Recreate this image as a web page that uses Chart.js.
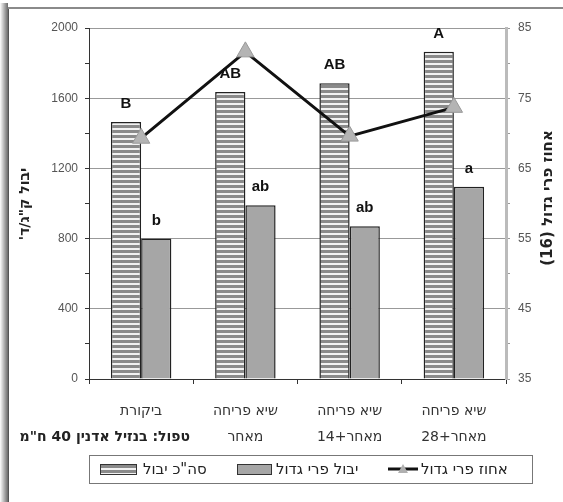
<!DOCTYPE html>
<html lang="he">
<head>
<meta charset="UTF-8">
<title>יבול ואחוז פרי גדול</title>
<script src="https://cdn.jsdelivr.net/npm/chart.js"></script>
<style>
  body { margin: 0; background: #fff; }
  #wrap { position: relative; width: 563px; height: 502px; overflow: hidden; }
  canvas { position: absolute; left: 0; top: 0; }
  #shade { position: absolute; left: 0; top: 3px; bottom: 0; width: 8px; background: linear-gradient(to right, #fff, #6a6a6a); }
  #edgeL { position: absolute; left: 8px; top: 7px; bottom: 0; width: 1px; background: #555; }
  #edgeT { position: absolute; left: 8px; top: 7px; right: 0; height: 2px; background: #8a8a8a; }
</style>
</head>
<body>
<div id="wrap">
  <canvas id="chart" width="563" height="502" dir="rtl"></canvas>
  <div id="shade"></div>
  <div id="edgeL"></div>
  <div id="edgeT"></div>
</div>

<script>
  const categories = [
    ["ביקורת"],
    ["שיא פריחה", "מאחר"],
    ["שיא פריחה", "מאחר+14"],
    ["שיא פריחה", "מאחר+28"]
  ];
  const totalYield = [1465, 1635, 1685, 1865];     // סה"כ יבול
  const largeYield = [800, 990, 870, 1095];        // יבול פרי גדול
  const largePercent = [69.3, 81.6, 69.6, 73.7];   // אחוז פרי גדול
  const totalLetters = ["B", "AB", "AB", "A"];
  const largeLetters = ["b", "ab", "ab", "a"];
  const seriesNames = ['סה"כ יבול', "יבול פרי גדול", "אחוז פרי גדול"];
  const leftTitle = 'יבול ק"ג/ד\'';
  const rightTitle = "אחוז פרי גדול (16)";
  const treatmentNote = 'טפול: בנזיל אדנין 40 ח"מ';

  const FONT = "'Liberation Sans', Arial, sans-serif";
  const HEB = "'DejaVu Sans', 'Liberation Sans', sans-serif";
  const rtl = s => "\u202B" + s + "\u202C";

  // striped fill for the total-yield bars
  function stripes() {
    const c = document.createElement("canvas");
    c.width = 4; c.height = 5;
    const g = c.getContext("2d");
    g.fillStyle = "#f2f2f2";
    g.fillRect(0, 0, 4, 5);
    g.fillStyle = "#8a8a8a";
    g.fillRect(0, 0, 4, 3);
    return g.createPattern(c, "repeat");
  }
  const stripePattern = stripes();

  const extras = {
    id: "extras",
    beforeDraw(chart) {
      chart.ctx.direction = "rtl";
    },
    afterDatasetsDraw(chart) {
      const ctx = chart.ctx;
      ctx.save();
      ctx.fillStyle = "#111";
      ctx.font = "bold 15px " + FONT;
      ctx.textAlign = "center";
      ctx.textBaseline = "middle";
      [totalLetters, largeLetters].forEach((letters, i) => {
        chart.getDatasetMeta(i).data.forEach((bar, j) => {
          ctx.fillText(letters[j], bar.x, bar.y - 18);
        });
      });
      ctx.restore();
    },
    afterDraw(chart) {
      const ctx = chart.ctx;
      ctx.save();
      ctx.direction = "rtl";
      ctx.fillStyle = "#222";
      ctx.textBaseline = "middle";
      ctx.textAlign = "center";

      // axis titles
      ctx.font = "bold 14px " + HEB;
      ctx.save();
      ctx.translate(25, 204);
      ctx.rotate(-Math.PI / 2);
      ctx.fillText(rtl(leftTitle), 0, 0);
      ctx.restore();
      ctx.font = "bold 15px " + HEB;
      ctx.save();
      ctx.translate(548, 198);
      ctx.rotate(-Math.PI / 2);
      ctx.fillText(rtl(rightTitle), 0, 0);
      ctx.restore();

      // treatment note
      ctx.textAlign = "right";
      ctx.font = "bold 14px " + HEB;
      ctx.fillText(rtl(treatmentNote), 190, 437);

      // legend
      ctx.strokeStyle = "#777";
      ctx.lineWidth = 1;
      ctx.strokeRect(89.5, 455.5, 443, 28);
      ctx.font = "15px " + HEB;
      ctx.textAlign = "left";

      ctx.fillStyle = stripePattern;
      ctx.fillRect(100, 464, 36, 10);
      ctx.strokeStyle = "#333";
      ctx.strokeRect(100.5, 464.5, 36, 10);
      ctx.fillStyle = "#222";
      ctx.fillText(rtl(seriesNames[0]), 143, 470);

      ctx.fillStyle = "#a6a6a6";
      ctx.fillRect(237, 464, 34, 10);
      ctx.strokeRect(237.5, 464.5, 34, 10);
      ctx.fillStyle = "#222";
      ctx.fillText(rtl(seriesNames[1]), 276, 470);

      ctx.strokeStyle = "#111";
      ctx.lineWidth = 3;
      ctx.beginPath();
      ctx.moveTo(388, 469);
      ctx.lineTo(418, 469);
      ctx.stroke();
      ctx.fillStyle = "#b0b0b0";
      ctx.beginPath();
      ctx.moveTo(403, 464);
      ctx.lineTo(408, 473);
      ctx.lineTo(398, 473);
      ctx.closePath();
      ctx.fill();
      ctx.fillStyle = "#222";
      ctx.fillText(rtl(seriesNames[2]), 421, 470);

      ctx.restore();
    }
  };

  new Chart(document.getElementById("chart"), {
    data: {
      labels: categories,
      datasets: [
        {
          type: "bar",
          label: seriesNames[0],
          data: totalYield,
          yAxisID: "y",
          backgroundColor: stripePattern,
          borderColor: "#222",
          borderWidth: 1.5,
          categoryPercentage: 0.58,
          barPercentage: 1.0,
          order: 1
        },
        {
          type: "bar",
          label: seriesNames[1],
          data: largeYield,
          yAxisID: "y",
          backgroundColor: "#a6a6a6",
          borderColor: "#222",
          borderWidth: 1.5,
          categoryPercentage: 0.58,
          barPercentage: 1.0,
          order: 1
        },
        {
          type: "line",
          label: seriesNames[2],
          data: largePercent,
          yAxisID: "y1",
          borderColor: "#111",
          borderWidth: 3,
          tension: 0,
          pointStyle: "triangle",
          pointRadius: 10,
          pointBackgroundColor: "#b4b4b4",
          pointBorderColor: "#999",
          pointBorderWidth: 1,
          order: 0
        }
      ]
    },
    options: {
      responsive: false,
      animation: false,
      layout: { padding: { top: 28, left: 0, right: 0, bottom: 0 } },
      plugins: { legend: { display: false }, tooltip: { enabled: false } },
      scales: {
        x: {
          afterFit: s => { s.height = 123; },
          grid: { offset: true, drawOnChartArea: false, tickLength: 5, color: "#333" },
          border: { color: "#333" },
          ticks: {
            autoSkip: false, maxRotation: 0, padding: 14, color: "#333",
            font: { family: HEB, size: 14, lineHeight: 1.86 },
            callback: function (v) {
              return this.getLabelForValue(v).map(rtl);
            }
          }
        },
        y: {
          position: "left",
          min: 0, max: 2000,
          afterFit: s => { s.width = 89; },
          grid: {
            color: c => (c.tick && c.tick.value % 400 === 0 ? "#999" : "rgba(0,0,0,0)"),
            tickColor: "#333",
            tickLength: 4
          },
          border: { color: "#333" },
          ticks: {
            stepSize: 200, autoSkip: false, padding: 7, color: "#555",
            font: { family: FONT, size: 12 },
            callback: v => (v % 400 === 0 ? v : "")
          }
        },
        y1: {
          position: "right",
          min: 35, max: 85,
          afterFit: s => { s.width = 57; },
          grid: { drawOnChartArea: false, tickColor: "#999", tickLength: 4 },
          border: { color: "#bbb", width: 3 },
          ticks: {
            stepSize: 5, autoSkip: false, padding: 8, color: "#555",
            font: { family: FONT, size: 12 },
            callback: v => ((v - 35) % 10 === 0 ? v : "")
          }
        }
      }
    },
    plugins: [extras]
  });
</script>
</body>
</html>
